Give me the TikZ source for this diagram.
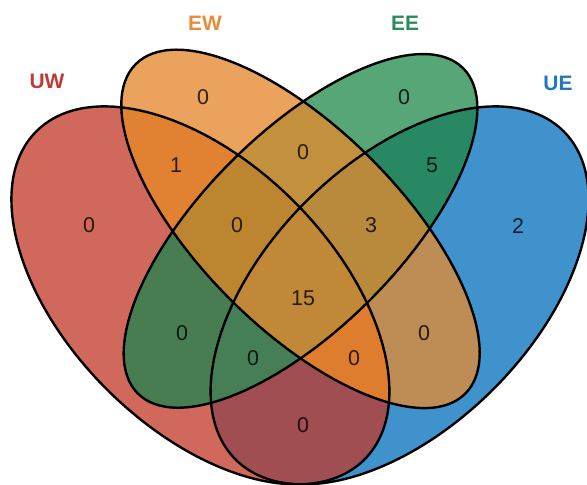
\documentclass[tikz,border=0pt]{standalone}
\usepackage{fontspec}
\setmainfont{Liberation Sans}
\begin{document}
\begin{tikzpicture}[x=1bp,y=1bp,
  eUW/.style={insert path={(200.4,189.6) ellipse [x radius=232bp, y radius=132.6bp, rotate=-45]}},
  eEW/.style={insert path={(300.5,256.1) ellipse [x radius=233bp, y radius=99.5bp, rotate=-45]}},
  eEE/.style={insert path={(300.5,254.1) ellipse [x radius=230bp, y radius=98bp, rotate=45]}},
  eUE/.style={insert path={(399.6,189.6) ellipse [x radius=232bp, y radius=132.6bp, rotate=45]}},
  outline/.style={draw=black, line width=2.4bp},
  count/.style={font=\fontsize{21.5}{21.5}\selectfont, text=black, text opacity=0.8},
  setname/.style={font=\fontsize{21}{21}\selectfont\bfseries}
]
\useasboundingbox (0,0) rectangle (587,485);
% paint each intersection, smaller families first
\newcommand\paint[2]{\begin{scope}#2\fill[#1] (0,0) rectangle (587,485);\end{scope}}
\definecolor{cUW}{HTML}{D0695C}
\definecolor{cEW}{HTML}{EAA25C}
\definecolor{cEE}{HTML}{56A678}
\definecolor{cUE}{HTML}{4092CD}
\definecolor{cUWEW}{HTML}{E08232}
\definecolor{cUWEE}{HTML}{487D52}
\definecolor{cUWUE}{HTML}{A04E52}
\definecolor{cEWEE}{HTML}{C3913E}
\definecolor{cEWUE}{HTML}{BE8C55}
\definecolor{cEEUE}{HTML}{288864}
\definecolor{cUWEWEE}{HTML}{BE8530}
\definecolor{cUWEWUE}{HTML}{DE7D2D}
\definecolor{cUWEEUE}{HTML}{467F55}
\definecolor{cEWEEUE}{HTML}{B98A3C}
\definecolor{cALL}{HTML}{C08837}
\paint{cUW}{\clip[eUW];}
\paint{cUE}{\clip[eUE];}
\paint{cEW}{\clip[eEW];}
\paint{cEE}{\clip[eEE];}
\paint{cUWEW}{\clip[eUW];\clip[eEW];}
\paint{cUWEE}{\clip[eUW];\clip[eEE];}
\paint{cUWUE}{\clip[eUW];\clip[eUE];}
\paint{cEWEE}{\clip[eEW];\clip[eEE];}
\paint{cEWUE}{\clip[eEW];\clip[eUE];}
\paint{cEEUE}{\clip[eEE];\clip[eUE];}
\paint{cUWEWEE}{\clip[eUW];\clip[eEW];\clip[eEE];}
\paint{cUWEWUE}{\clip[eUW];\clip[eEW];\clip[eUE];}
\paint{cUWEEUE}{\clip[eUW];\clip[eEE];\clip[eUE];}
\paint{cEWEEUE}{\clip[eEW];\clip[eEE];\clip[eUE];}
\paint{cALL}{\clip[eUW];\clip[eEW];\clip[eEE];\clip[eUE];}
% outlines
\path[outline, eUW];
\path[outline, eUE];
\path[outline, eEW];
\path[outline, eEE];
% counts
\node[count] (n1)  at (89,260)  {0};
\node[count] (n2)  at (203,388) {0};
\node[count] (n3)  at (404,388) {0};
\node[count] (n4)  at (518,259) {2};
\node[count] (n5)  at (176,320) {1};
\node[count] (n6)  at (303,333) {0};
\node[count] (n7)  at (432,320) {5};
\node[count] (n8)  at (237,260) {0};
\node[count] (n9)  at (371,260) {3};
\node[count] (n10) at (303,187) {15};
\node[count] (n11) at (182,152) {0};
\node[count] (n12) at (424,152) {0};
\node[count] (n13) at (253,127) {0};
\node[count] (n14) at (354,127) {0};
\node[count] (n15) at (303,60)  {0};
% set names
\definecolor{tUW}{HTML}{BE3A34}
\definecolor{tEW}{HTML}{E68C3C}
\definecolor{tEE}{HTML}{2A8C5A}
\definecolor{tUE}{HTML}{1F78BE}
\node[setname, text=tUW] (lUW) at (47,404) {UW};
\node[setname, text=tEW] (lEW) at (205,462) {EW};
\node[setname, text=tEE] (lEE) at (405,462) {EE};
\node[setname, text=tUE] (lUE) at (558,402) {UE};
\end{tikzpicture}
\end{document}
